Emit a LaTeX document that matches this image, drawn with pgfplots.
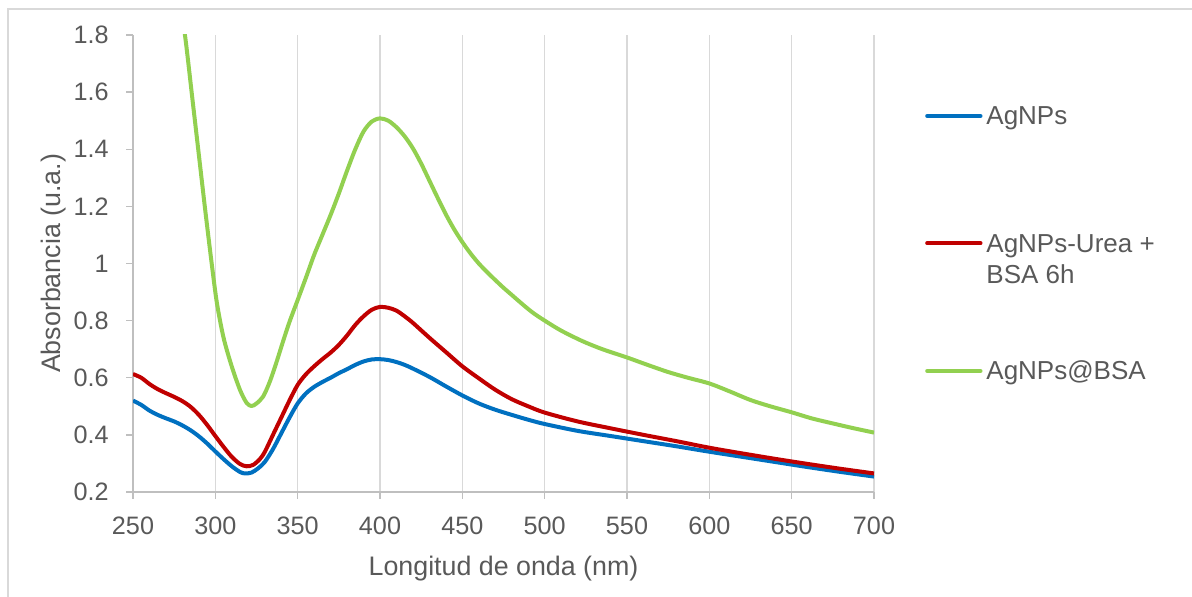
\documentclass[border=0pt]{standalone}
\usepackage{pgfplots}
\pgfplotsset{compat=1.18}
\usepackage{fontspec}
\setmainfont{Liberation Sans}
\definecolor{txt}{HTML}{595959}
\definecolor{axisgray}{HTML}{BFBFBF}
\definecolor{gridgray}{HTML}{D9D9D9}
\definecolor{cblue}{HTML}{0070C0}
\definecolor{cred}{HTML}{C00000}
\definecolor{cgreen}{HTML}{92D050}

\pgfplotstableread{
x y
250 0.520
255 0.505
260 0.485
265 0.470
270 0.458
275 0.447
280 0.433
285 0.416
290 0.395
295 0.370
300 0.342
305 0.315
310 0.290
315 0.270
318 0.265
322 0.268
326 0.283
330 0.305
335 0.350
340 0.405
345 0.460
350 0.510
355 0.545
360 0.568
365 0.585
370 0.600
375 0.616
380 0.630
385 0.645
390 0.657
395 0.664
400 0.665
405 0.662
410 0.655
415 0.645
420 0.632
430 0.603
440 0.570
450 0.538
460 0.510
470 0.488
480 0.470
490 0.453
500 0.438
520 0.414
540 0.396
560 0.378
580 0.360
600 0.341
620 0.323
640 0.305
660 0.287
680 0.270
700 0.254
}\agnps

\pgfplotstableread{
x y
250 0.613
255 0.600
260 0.578
265 0.560
270 0.546
275 0.533
280 0.518
285 0.498
290 0.470
295 0.435
300 0.396
305 0.358
310 0.323
315 0.298
319 0.290
323 0.295
327 0.315
330 0.340
335 0.400
340 0.460
345 0.520
350 0.575
355 0.612
360 0.640
365 0.665
370 0.688
375 0.715
380 0.748
385 0.785
390 0.815
395 0.838
400 0.848
405 0.845
410 0.835
415 0.815
420 0.792
430 0.740
440 0.690
450 0.640
460 0.598
470 0.558
480 0.525
490 0.500
500 0.478
520 0.447
540 0.423
560 0.400
580 0.378
600 0.355
620 0.335
640 0.316
660 0.298
680 0.281
700 0.265
}\urea

\pgfplotstableread{
x y
279 1.90
282 1.78
286 1.58
290 1.38
294 1.18
298 0.99
301 0.86
305 0.74
310 0.639
315 0.557
319 0.512
322 0.501
325 0.510
329 0.534
333 0.585
337 0.652
341 0.725
345 0.795
350 0.872
355 0.950
360 1.030
365 1.100
370 1.170
375 1.245
380 1.325
385 1.400
390 1.462
395 1.497
400 1.508
405 1.500
410 1.477
415 1.445
420 1.403
425 1.350
430 1.290
435 1.230
440 1.172
445 1.120
450 1.075
455 1.035
460 1.000
465 0.970
470 0.942
475 0.915
480 0.890
487 0.855
493 0.827
500 0.800
510 0.765
523 0.728
535 0.700
550 0.671
562 0.646
575 0.620
587 0.600
600 0.580
612 0.553
625 0.522
637 0.500
650 0.479
662 0.458
675 0.440
687 0.424
700 0.408
}\bsa

\begin{document}
\begin{tikzpicture}
\useasboundingbox (0,0) rectangle (596pt,298.5pt);
\draw[gridgray, line width=1pt] (4pt,-10pt) rectangle (610pt,294pt);
\begin{axis}[
  scale only axis,
  width=370.5pt, height=228.5pt,
  at={(66.5pt,52.5pt)}, anchor=south west,
  xmin=250, xmax=700, ymin=0.2, ymax=1.8,
  xtick={250,300,350,400,450,500,550,600,650,700},
  ytick={0.2,0.4,0.6,0.8,1,1.2,1.4,1.6,1.8},
  axis x line*=bottom, axis y line*=left,
  axis line style={axisgray, line width=0.7pt},
  every tick/.style={axisgray, line width=0.7pt},
  tick align=outside, major tick length=3.5pt,
  xmajorgrids, grid style={gridgray, line width=0.75pt},
  /pgf/number format/assume math mode=true,
  ticklabel style={text=txt, font=\fontsize{12.6}{15}\selectfont},
  xticklabel style={anchor=north, inner sep=0pt, yshift=-8.85pt},
  yticklabel style={anchor=east, inner sep=0pt, xshift=-8.5pt},
  xlabel={Longitud de onda (nm)},
  ylabel={Absorbancia (u.a.)},
  xlabel style={at={(axis description cs:0.5,-0.183)}, anchor=base, inner sep=0pt, text=txt, font=\fontsize{13.4}{16}\selectfont},
  ylabel style={at={(axis description cs:-0.0985,0.5)}, anchor=base, inner sep=0pt, text=txt, font=\fontsize{13.4}{16}\selectfont},
  every axis plot/.append style={line width=2pt, line join=round, no markers, smooth, tension=0.5},
]
\addplot[cblue] table[x=x,y=y] {\agnps};
\addplot[cred] table[x=x,y=y] {\urea};
\addplot[cgreen] table[x=x,y=y] {\bsa};
\end{axis}
% legend
\begin{scope}[every node/.style={inner sep=0pt, anchor=base west, text=txt, font=\fontsize{13}{15.6}\selectfont}]
\draw[cblue, line width=1.8pt, line cap=round] (463.5pt,240.5pt) -- (490.35pt,240.5pt);
\node at (493pt,236pt) {AgNPs};
\draw[cred, line width=1.8pt, line cap=round] (463.5pt,176.85pt) -- (490.35pt,176.85pt);
\node at (493pt,172.15pt) {AgNPs-Urea +};
\node at (493pt,156.85pt) {BSA 6h};
\draw[cgreen, line width=1.8pt, line cap=round] (463.5pt,113pt) -- (490.35pt,113pt);
\node at (493pt,108.85pt) {AgNPs@BSA};
\end{scope}
\end{tikzpicture}
\end{document}
